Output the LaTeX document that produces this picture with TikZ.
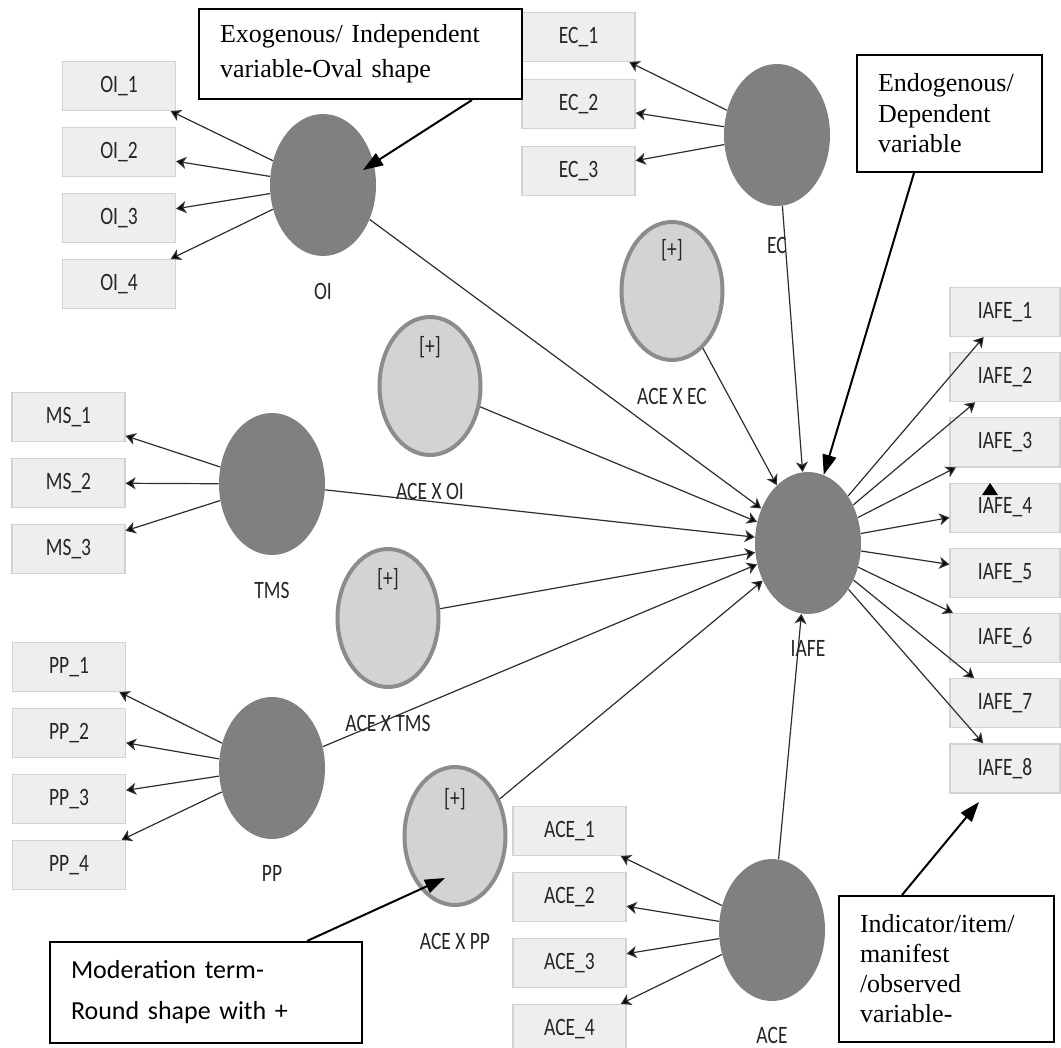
\documentclass[tikz,border=0pt]{standalone}
\usepackage{fontspec}
\newfontfamily\plsfont[FakeStretch=0.78]{Carlito}
\newfontfamily\notefont{Liberation Serif}
\newfontfamily\calfont{Carlito}
\usetikzlibrary{arrows.meta, positioning, shapes.geometric}

\definecolor{boxfill}{HTML}{EEEEEE}
\definecolor{boxline}{HTML}{D2D2D2}
\definecolor{latentfill}{HTML}{808080}
\definecolor{moderfill}{HTML}{D3D3D3}
\definecolor{moderline}{HTML}{8C8C8C}
\definecolor{plstext}{HTML}{262626}
\definecolor{linkline}{HTML}{2E2E2E}

\tikzset{
    indbox/.style = {rectangle, draw=boxline, fill=boxfill, line width=0.6pt,
        minimum width=56.5pt, minimum height=24.5pt, inner sep=0pt,
        text=plstext, font=\plsfont\fontsize{12.5}{14}\selectfont},
    latent/.style = {ellipse, fill=latentfill, minimum width=53pt,
        minimum height=71pt, inner sep=0pt},
    modterm/.style = {ellipse, draw=moderline, line width=2pt, fill=moderfill,
        minimum width=50.5pt, minimum height=69pt, inner sep=0pt},
    conlabel/.style = {inner sep=0pt, text=plstext,
        font=\plsfont\fontsize{12.5}{14}\selectfont},
    callout/.style = {rectangle, draw=black, line width=1pt, fill=white,
        align=left, inner xsep=10.5pt, inner ysep=0pt},
    link/.style = {draw=linkline, line width=0.6pt,
        -{Stealth[length=5pt, width=6pt, inset=1.4pt, fill=black]}},
    callarrow/.style = {draw=black, line width=1pt,
        -{Triangle[length=10pt, width=7pt]}}
}

\begin{document}
\begin{tikzpicture} [x=0.5pt, y=-0.5pt,
            node distance = 33pt,
            on grid]

        \useasboundingbox [fill=white] (0,0) rectangle (1061,1048);

        % Construct OI
        \node (OI) [latent] at (323,185) {};
        \node (OIcap) [conlabel, below=13pt of OI.south] {OI};
        \node (OI1) [indbox] at (119,86) {OI\_1};
        \node (OI2) [indbox, below=of OI1] {OI\_2};
        \node (OI3) [indbox, below=of OI2] {OI\_3};
        \node (OI4) [indbox, below=of OI3] {OI\_4};

        % Construct EC
        \node (EC) [latent] at (777,135) {};
        \node (ECcap) [conlabel, below=15pt of EC.south] {EC};
        \node (EC1) [indbox] at (578.5,37) {EC\_1};
        \node (EC2) [indbox, below=33.5pt of EC1] {EC\_2};
        \node (EC3) [indbox, below=33.5pt of EC2] {EC\_3};

        % Construct TMS
        \node (TMS) [latent] at (272,484) {};
        \node (TMScap) [conlabel, below=13pt of TMS.south] {TMS};
        \node (MS1) [indbox] at (68.5,417) {MS\_1};
        \node (MS2) [indbox, below=of MS1] {MS\_2};
        \node (MS3) [indbox, below=of MS2] {MS\_3};

        % Construct PP
        \node (PP) [latent] at (272,768) {};
        \node (PPcap) [conlabel, below=13pt of PP.south] {PP};
        \node (PP1) [indbox] at (69,667) {PP\_1};
        \node (PP2) [indbox, below=of PP1] {PP\_2};
        \node (PP3) [indbox, below=of PP2] {PP\_3};
        \node (PP4) [indbox, below=of PP3] {PP\_4};

        % Construct ACE
        \node (ACE) [latent] at (772,930) {};
        \node (ACEcap) [conlabel, below=12.5pt of ACE.south] {ACE};
        \node (ACE1) [indbox] at (569.5,831) {ACE\_1};
        \node (ACE2) [indbox, below=of ACE1] {ACE\_2};
        \node (ACE3) [indbox, below=of ACE2] {ACE\_3};
        \node (ACE4) [indbox, below=of ACE3] {ACE\_4};

        % Construct IAFE
        \node (IAFE) [latent] at (808,543) {};
        \node (IAFEcap) [conlabel, below=13pt of IAFE.south] {IAFE};
        \node (IAFE1) [indbox, minimum width=55pt] at (1005,312) {IAFE\_1};
        \node (IAFE2) [indbox, minimum width=55pt, below=32.6pt of IAFE1] {IAFE\_2};
        \node (IAFE3) [indbox, minimum width=55pt, below=32.6pt of IAFE2] {IAFE\_3};
        \node (IAFE4) [indbox, minimum width=55pt, below=32.6pt of IAFE3] {IAFE\_4};
        \node (IAFE5) [indbox, minimum width=55pt, below=32.6pt of IAFE4] {IAFE\_5};
        \node (IAFE6) [indbox, minimum width=55pt, below=32.6pt of IAFE5] {IAFE\_6};
        \node (IAFE7) [indbox, minimum width=55pt, below=32.6pt of IAFE6] {IAFE\_7};
        \node (IAFE8) [indbox, minimum width=55pt, below=32.6pt of IAFE7] {IAFE\_8};

        % Moderation terms
        \node (AOI) [modterm] at (430,386) {};
        \node (AOIplus) [conlabel, below=10.5pt of AOI.north] {[+]};
        \node (AOIcap) [conlabel, below=13pt of AOI.south] {ACE X OI};

        \node (AEC) [modterm] at (672,291) {};
        \node (AECplus) [conlabel, below=9.5pt of AEC.north] {[+]};
        \node (AECcap) [conlabel, below=13pt of AEC.south] {ACE X EC};

        \node (ATMS) [modterm] at (388,618) {};
        \node (ATMSplus) [conlabel, below=10.5pt of ATMS.north] {[+]};
        \node (ATMScap) [conlabel, below=13pt of ATMS.south] {ACE X TMS};

        \node (APP) [modterm] at (455,836) {};
        \node (APPplus) [conlabel, below=11.5pt of APP.north] {[+]};
        \node (APPcap) [conlabel, below=13pt of APP.south] {ACE X PP};

        % Outer loadings
        \path [link]
            (OI) edge (OI1)
            (OI) edge (OI2)
            (OI) edge (OI3)
            (OI) edge (OI4)
            (EC) edge (EC1)
            (EC) edge (EC2)
            (EC) edge (EC3)
            (TMS) edge (MS1)
            (TMS) edge (MS2)
            (TMS) edge (MS3)
            (PP) edge (PP1)
            (PP) edge (PP2)
            (PP) edge (PP3)
            (PP) edge (PP4)
            (ACE) edge (ACE1)
            (ACE) edge (ACE2)
            (ACE) edge (ACE3)
            (ACE) edge (ACE4)
            (IAFE) edge (IAFE1)
            (IAFE) edge (IAFE2)
            (IAFE) edge (IAFE3)
            (IAFE) edge (IAFE4)
            (IAFE) edge (IAFE5)
            (IAFE) edge (IAFE6)
            (IAFE) edge (IAFE7)
            (IAFE) edge (IAFE8);

        % Paths to IAFE
        \path [link]
            (OI) edge (IAFE)
            (EC) edge (IAFE)
            (TMS) edge (IAFE)
            (PP) edge (IAFE)
            (ACE) edge (IAFE)
            (AOI) edge (IAFE)
            (AEC) edge (IAFE)
            (ATMS) edge (IAFE)
            (APP) edge (IAFE);

        \fill [black] (982,495) -- (998,495) -- (990,483) -- cycle;

        % Callouts
        \node (exo) [callout, text width=140.5pt, minimum height=45pt,
            font=\notefont\fontsize{13}{17.5}\selectfont] at (360.5,54)
            {Exogenous/ Independent\\variable-Oval shape};
        \node (endo) [callout, text width=71.5pt, minimum height=58.5pt,
            font=\notefont\fontsize{13}{15.25}\selectfont] at (949.5,113.5)
            {Endogenous/\\Dependent\\variable};
        \node (modnote) [callout, text width=135pt, minimum height=50.5pt,
            font=\calfont\fontsize{13}{20.5}\selectfont] at (206,992.5)
            {Moderation term-\\Round shape with +};
        \node (indic) [callout, text width=86.5pt, minimum height=73pt,
            font=\notefont\fontsize{13}{15}\selectfont] at (946.5,969)
            {Indicator/item/\\manifest\\/observed\\variable-};

        \coordinate (exotip) at (363,170);
        \coordinate (modtip) at (445,878);
        \coordinate (indictip) at (979,802);

        \draw [callarrow] ([xshift=55.75pt]exo.south) -- (exotip);
        \draw [callarrow] ([xshift=-17.75pt]endo.south) -- (IAFE.77);
        \draw [callarrow] ([xshift=50.5pt]modnote.north) -- (modtip);
        \draw [callarrow] ([xshift=-22.25pt]indic.north) -- (indictip);
\end{tikzpicture}
\end{document}
